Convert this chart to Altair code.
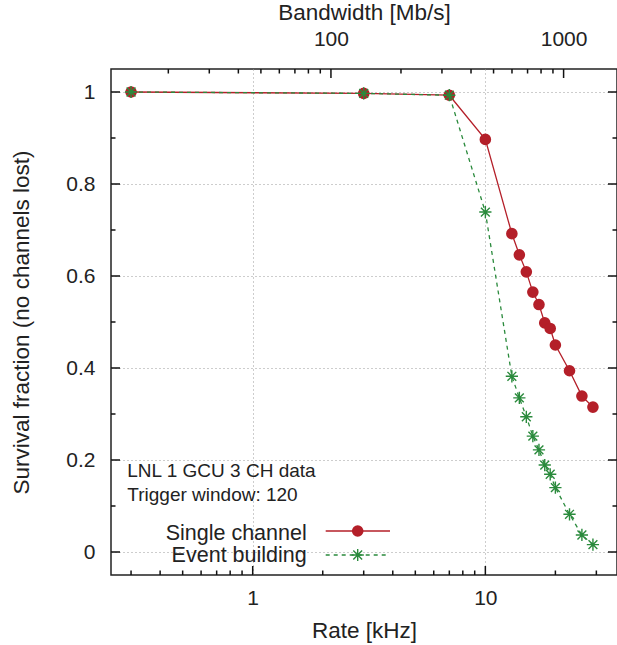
import altair as alt
import pandas as pd

# ---------------- data ----------------
rate_khz = [0.3, 3, 7, 10, 13, 14, 15, 16, 17, 18, 19, 20, 23, 26, 29]
single_channel = [1.0, 0.997, 0.993, 0.897, 0.692, 0.646, 0.609, 0.565,
                  0.538, 0.498, 0.486, 0.450, 0.394, 0.339, 0.315]
event_building = [1.0, 0.997, 0.993, 0.739, 0.382, 0.335, 0.294, 0.252,
                  0.222, 0.189, 0.169, 0.140, 0.082, 0.037, 0.016]

x_major = [1, 10]
x_minor = [0.3, 0.4, 0.5, 0.6, 0.7, 0.8, 0.9, 2, 3, 4, 5, 6, 7, 8, 9, 20, 30]
y_major = [0, 0.2, 0.4, 0.6, 0.8, 1.0]
y_minor = [0.1, 0.3, 0.5, 0.7, 0.9]
bw_major = [100, 1000]
bw_minor = [20, 30, 40, 50, 60, 70, 80, 90, 200, 300, 400, 500, 600, 700, 800, 900]

legend_labels = ["Single channel", "Event building"]
note_lines = ["LNL 1 GCU 3 CH data", "Trigger window: 120"]

MBPS_PER_KHZ = 46.1
RATE_DOMAIN = [0.246, 36.8]
BW_DOMAIN = [d * MBPS_PER_KHZ for d in RATE_DOMAIN]
Y_DOMAIN = [-0.05, 1.05]

# ---------------- style ----------------
W, H = 506, 506
FONT = "Liberation Sans"
INK = "#222222"
TICK = "#111111"
RED = "#b41f29"
GREEN = "#2a8a3c"
GRID = "#9a9a9a"
MAJ, MIN = 9, 4.5
STAR = "M-1,0L1,0M0,-1L0,1M-0.72,-0.72L0.72,0.72M-0.72,0.72L0.72,-0.72"

xs = alt.Scale(type="log", domain=RATE_DOMAIN)
ys = alt.Scale(domain=Y_DOMAIN)
bws = alt.Scale(type="log", domain=BW_DOMAIN)

common_axis = dict(ticks=False, tickSize=0, domain=False, labelFont=FONT, labelFontSize=21,
                   labelColor=INK, titleFont=FONT, titleFontSize=22.5,
                   titleFontWeight="normal", titleColor=INK, labelFlush=False,
                   labelOverlap=False, zindex=0)

AX_X = alt.Axis(orient="bottom", values=x_major, format="~g", title="Rate [kHz]", grid=True,
                gridDash=[1, 3], gridColor=GRID, gridWidth=1, labelPadding=12,
                titleY=62, titleBaseline="alphabetic", **common_axis)
AX_Y = alt.Axis(orient="left", values=y_major, format="~g",
                title="Survival fraction (no channels lost)", grid=True, gridDash=[1, 3],
                gridColor=GRID, gridWidth=1, labelPadding=16, titleX=-83,
                titleBaseline="alphabetic", **common_axis)
AX_BW = alt.Axis(orient="top", values=bw_major, format="d", title="Bandwidth [Mb/s]",
                 grid=False, labelPadding=20, titleY=-50, titleBaseline="alphabetic",
                 **common_axis)


def X(field, axis=AX_X):
    return alt.X(field, type="quantitative", scale=xs, axis=axis)


def Y(field, axis=AX_Y):
    return alt.Y(field, type="quantitative", scale=ys, axis=axis)


data = pd.DataFrame({"rate": rate_khz, "single": single_channel, "event": event_building})
df_xmaj = pd.DataFrame({"rate": x_major})
df_xmin = pd.DataFrame({"rate": x_minor})
df_ymaj = pd.DataFrame({"frac": y_major})
df_ymin = pd.DataFrame({"frac": y_minor})
df_bwmaj = pd.DataFrame({"bw": bw_major})
df_bwmin = pd.DataFrame({"bw": bw_minor})

# ---------- data layers (carry the visible axes and grid) ----------
base = alt.Chart(data)
red_line = base.mark_line(color=RED, strokeWidth=1.3).encode(x=X("rate"), y=Y("single"))
red_pts = base.mark_point(shape="circle", filled=True, size=135, color=RED,
                          opacity=1).encode(x=X("rate"), y=Y("single"))
green_line = base.mark_line(color=GREEN, strokeWidth=1.3, strokeDash=[4, 4]).encode(
    x=X("rate"), y=Y("event"))
green_pts = base.mark_point(shape=STAR, filled=False, size=150, color=GREEN,
                            strokeWidth=1.4, opacity=1).encode(x=X("rate"), y=Y("event"))

# annotation text
notes = []
for line, yb in zip(note_lines, [407.7, 431.7]):
    notes.append(alt.Chart(pd.DataFrame({"t": [line]})).mark_text(
        align="left", baseline="alphabetic", font=FONT, fontSize=19, color=INK).encode(
        text="t:N", x=alt.value(16.3), y=alt.value(yb)))

# legend (gnuplot style: label on the left, sample on the right)
leg = []
rows = [(legend_labels[0], 471, 462, RED, None, "circle", True, 135, 279),
        (legend_labels[1], 492.7, 486, GREEN, [4, 4], STAR, False, 150, 276)]
for lab, yb, yl, col, dash, shp, filled, sz, xend in rows:
    d1 = pd.DataFrame({"t": [lab]})
    leg.append(alt.Chart(d1).mark_text(align="right", baseline="alphabetic", font=FONT,
                                       fontSize=21.5, color=INK).encode(
        text="t:N", x=alt.value(195.7), y=alt.value(yb)))
    rule_kw = dict(color=col, strokeWidth=1.3)
    if dash:
        rule_kw["strokeDash"] = dash
    leg.append(alt.Chart(d1).mark_rule(**rule_kw).encode(
        x=alt.value(214.7), x2=alt.value(xend), y=alt.value(yl)))
    pt_kw = dict(shape=shp, filled=filled, size=sz, color=col, opacity=1)
    if not filled:
        pt_kw["strokeWidth"] = 1.4
    leg.append(alt.Chart(d1).mark_point(**pt_kw).encode(
        x=alt.value(246.7), y=alt.value(yl)))

main = alt.layer(red_line, red_pts, green_line, green_pts, *notes, *leg)

# ---------- inward ticks (gnuplot style), own group without axes ----------
rule = dict(color=TICK, strokeWidth=1.5, opacity=1)
bottom_major = alt.Chart(df_xmaj).mark_rule(**rule).encode(
    x=X("rate", None), y=alt.value(H), y2=alt.value(H - MAJ))
bottom_minor = alt.Chart(df_xmin).mark_rule(**rule).encode(
    x=X("rate", None), y=alt.value(H), y2=alt.value(H - MIN))
left_major = alt.Chart(df_ymaj).mark_rule(**rule).encode(
    y=Y("frac", None), x=alt.value(0), x2=alt.value(MAJ))
left_minor = alt.Chart(df_ymin).mark_rule(**rule).encode(
    y=Y("frac", None), x=alt.value(0), x2=alt.value(MIN))
right_major = alt.Chart(df_ymaj).mark_rule(**rule).encode(
    y=Y("frac", None), x=alt.value(W), x2=alt.value(W - MAJ))
right_minor = alt.Chart(df_ymin).mark_rule(**rule).encode(
    y=Y("frac", None), x=alt.value(W), x2=alt.value(W - MIN))
ticks = alt.layer(bottom_major, bottom_minor, left_major, left_minor, right_major,
                  right_minor)

# ---------- top (bandwidth) axis with its own scale ----------
top_major = alt.Chart(df_bwmaj).mark_rule(**rule).encode(
    x=alt.X("bw:Q", scale=bws, axis=AX_BW), y=alt.value(0), y2=alt.value(MAJ))
top_minor = alt.Chart(df_bwmin).mark_rule(**rule).encode(
    x=alt.X("bw:Q", scale=bws, axis=AX_BW), y=alt.value(0), y2=alt.value(MIN))
top = alt.layer(top_major, top_minor)

chart = alt.layer(main, ticks, top).resolve_scale(
    x="independent", y="independent").resolve_axis(
    x="independent", y="independent").properties(
    width=W, height=H,
    autosize=alt.AutoSizeParams(type="none"),
    padding={"left": 111, "top": 69, "right": 0, "bottom": 70},
    background="white",
).configure_view(stroke=INK, strokeWidth=1.5)

chart.save("out.html", embed_options={"renderer": "svg", "actions": False})
